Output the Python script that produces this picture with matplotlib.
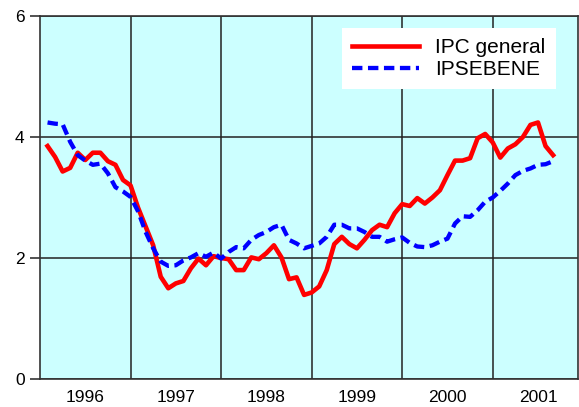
import matplotlib
matplotlib.use("Agg")
import matplotlib.pyplot as plt
import numpy as np

plt.rcParams['font.family'] = ['Liberation Sans', 'DejaVu Sans']
plt.rcParams['lines.scale_dashes'] = False

# Monthly index: 1 = Jan 1996 ... 68 = Aug 2001
months = list(range(1, 69))
years = ['1996', '1997', '1998', '1999', '2000', '2001']

ipc_general = [
    3.85, 3.67, 3.43, 3.49, 3.74, 3.62, 3.74, 3.74, 3.60, 3.54, 3.29, 3.20,   # 1996
    2.83, 2.52, 2.21, 1.69, 1.50, 1.58, 1.62, 1.83, 1.99, 1.88, 2.03, 2.00,   # 1997
    1.98, 1.80, 1.80, 2.01, 1.98, 2.08, 2.21, 2.01, 1.65, 1.68, 1.39, 1.43,   # 1998
    1.53, 1.80, 2.23, 2.35, 2.23, 2.16, 2.30, 2.46, 2.55, 2.51, 2.74, 2.89,   # 1999
    2.86, 2.99, 2.90, 3.00, 3.12, 3.37, 3.61, 3.61, 3.65, 3.98, 4.05, 3.91,   # 2000
    3.66, 3.81, 3.88, 4.00, 4.20, 4.24, 3.85, 3.70,                           # 2001
]

ipsebene = [
    4.24, 4.22, 4.21, 3.92, 3.70, 3.61, 3.54, 3.56, 3.40, 3.17, 3.10, 3.01,   # 1996
    2.77, 2.43, 2.16, 1.94, 1.87, 1.88, 1.96, 2.01, 2.08, 2.02, 2.09, 1.99,   # 1997
    2.10, 2.18, 2.16, 2.30, 2.38, 2.43, 2.51, 2.55, 2.30, 2.24, 2.16, 2.20,   # 1998
    2.24, 2.35, 2.55, 2.55, 2.49, 2.49, 2.43, 2.35, 2.35, 2.27, 2.31, 2.34,   # 1999
    2.25, 2.19, 2.18, 2.21, 2.27, 2.32, 2.57, 2.69, 2.68, 2.79, 2.93, 3.00,   # 2000
    3.11, 3.23, 3.37, 3.44, 3.48, 3.54, 3.55, 3.60,                           # 2001
]

fig = plt.figure(figsize=(5.79, 4.07), dpi=100)
ax = fig.add_axes([40/579, 1 - 379/407, 538/579, 363/407])
ax.set_facecolor('#CCFFFF')

ax.plot(months, ipc_general, color='#FF0000', lw=3.3, solid_joinstyle='round',
        label='IPC general', zorder=3)
ax.plot(months, ipsebene, color='#0000FF', lw=3.1, dashes=(7.5, 4),
        dash_capstyle='butt', label='IPSEBENE', zorder=3)

ax.set_xlim(0, 71.3)
ax.set_ylim(0, 6)
ax.set_yticks([0, 2, 4, 6])
ax.set_xticks([12, 24, 36, 48, 60])
ax.set_xticks([6 + 12 * k for k in range(len(years))], minor=True)
ax.set_xticklabels([])
ax.set_xticklabels(years, minor=True)
ax.tick_params(axis='x', which='both', length=0, pad=8, labelsize=12.5)
ax.tick_params(axis='y', length=7, width=1.2, color='#333333', pad=4, labelsize=12.5)

ax.grid(True, which='major', color='#222222', lw=1.1, zorder=1)
for s in ax.spines.values():
    s.set_color('#333333')
    s.set_linewidth(1.2)

leg = ax.legend(loc='upper right', bbox_to_anchor=(0.959, 0.967), fontsize=15,
                frameon=True, fancybox=False, framealpha=1, edgecolor='white',
                handlelength=3.2, handletextpad=0.8, labelspacing=0.12,
                borderpad=0.5, borderaxespad=0)
leg.get_frame().set_linewidth(0)

fig.savefig('out.png', dpi=100)
